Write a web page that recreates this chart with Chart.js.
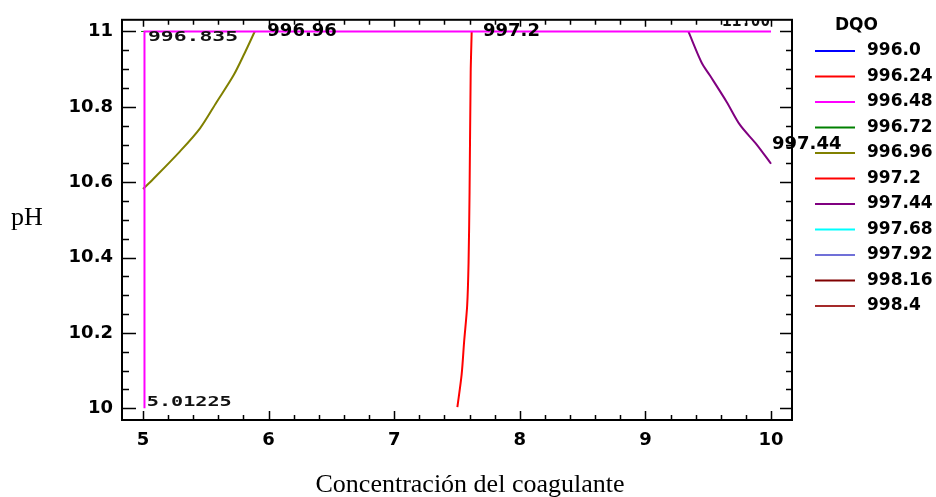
<!DOCTYPE html>
<html>
<head>
<meta charset="utf-8">
<script src="https://cdn.jsdelivr.net/npm/chart.js@4.4.1/dist/chart.umd.min.js"></script>
<style>
  html, body { margin: 0; padding: 0; background: #fff; }
  #wrap { width: 936px; height: 497px; position: relative; }
</style>
</head>
<body>
<div id="wrap"><canvas id="contour"></canvas></div>
<script>
// DQO contour levels shown in legend
const dqoLevels = ['996.0', '996.24', '996.48', '996.72', '996.96', '997.2', '997.44', '997.68', '997.92', '998.16', '998.4'];
const dqoColors = ['#0000ff', '#ff0000', '#ff00ff', '#008000', '#808000', '#ff0000', '#800080', '#00ffff', '#7070d8', '#800000', '#a52a2a'];

// contour traces (coagulant concentration, pH)
const line99648 = [{x: 5.012, y: 10.0}, {x: 5.012, y: 11.0}, {x: 10.0, y: 11.0}];
const line99672 = [{x: 4.985, y: 11.0}, {x: 9.34, y: 11.0}];
const line99696 = [{x: 5.0, y: 10.582}, {x: 5.08, y: 10.608}, {x: 5.295, y: 10.682}, {x: 5.454, y: 10.743}, {x: 5.587, y: 10.813}, {x: 5.72, y: 10.883}, {x: 5.81, y: 10.943}, {x: 5.89, y: 11.0}];
const line9972 = [{x: 7.503, y: 10.003}, {x: 7.537, y: 10.09}, {x: 7.557, y: 10.178}, {x: 7.581, y: 10.273}, {x: 7.592, y: 10.386}, {x: 7.600, y: 10.574}, {x: 7.609, y: 10.891}, {x: 7.617, y: 11.0}];
const line99744 = [{x: 9.342, y: 11.0}, {x: 9.448, y: 10.917}, {x: 9.514, y: 10.883}, {x: 9.647, y: 10.813}, {x: 9.753, y: 10.752}, {x: 9.886, y: 10.70}, {x: 10.0, y: 10.649}];
const traces = {'996.48': line99648, '996.72': line99672, '996.96': line99696, '997.2': line9972, '997.44': line99744};

const xTicks = [5, 6, 7, 8, 9, 10];
const yTicks = [10, 10.2, 10.4, 10.6, 10.8, 11];

// labels that sit on the contours: [text, x, y]
const contourLabels = [['996.96', 5.99, 11.0], ['997.2', 7.707, 11.0], ['997.44', 10.008, 10.7]];
const lcdLabels = [['996.835', 5.04, 11.003, 90], ['5.01225', 5.03, 10.034, 85]];

const datasets = dqoLevels.map((lvl, i) => ({
  label: lvl,
  data: traces[lvl] || [],
  borderColor: dqoColors[i],
  backgroundColor: dqoColors[i],
  borderWidth: lvl === '996.72' ? 1 : 2,
  showLine: true,
  pointRadius: 0,
  tension: (lvl === '996.48' || lvl === '996.72') ? 0 : 0.3
}));

const frame = {
  id: 'frame',
  afterDatasetsDraw(chart) {
    const ctx = chart.ctx;
    const a = chart.chartArea;
    const xs = chart.scales.x, ys = chart.scales.y;
    ctx.save();

    // contour labels
    ctx.fillStyle = '#000';
    ctx.font = 'bold 18px "DejaVu Sans"';
    ctx.textBaseline = 'middle';
    ctx.textAlign = 'left';
    contourLabels.forEach(([t, x, y]) => {
      ctx.fillText(t, xs.getPixelForValue(x), ys.getPixelForValue(y));
    });

    // lcd-like labels
    lcdLabels.forEach(([t, x, y, w]) => {
      ctx.save();
      ctx.font = 'bold 14px "DejaVu Sans Mono"';
      const mw = ctx.measureText(t).width;
      ctx.translate(xs.getPixelForValue(x), ys.getPixelForValue(y));
      ctx.scale(w / mw, 1);
      ctx.fillStyle = '#111';
      ctx.textBaseline = 'top';
      ctx.fillText(t, 0, 0);
      ctx.restore();
    });

    // clipped label at top right
    ctx.save();
    ctx.beginPath();
    ctx.rect(a.left, a.top, a.right - a.left, a.bottom - a.top);
    ctx.clip();
    ctx.font = 'bold 16px "DejaVu Sans Mono"';
    const mw = ctx.measureText('11.00').width;
    ctx.translate(xs.getPixelForValue(9.61), a.top + 2);
    ctx.scale(48 / mw, 1);
    ctx.textBaseline = 'middle';
    ctx.fillStyle = '#111';
    ctx.fillText('11.00', 0, 0);
    ctx.restore();

    // frame and ticks
    ctx.strokeStyle = '#000';
    ctx.lineWidth = 2;
    ctx.strokeRect(a.left, a.top, a.right - a.left, a.bottom - a.top);
    ctx.lineWidth = 1.5;
    ctx.beginPath();
    for (let v = 5; v <= 10.001; v += 0.2) {
      const px = Math.round(xs.getPixelForValue(v)) + 0.5;
      const major = Math.abs(v - Math.round(v)) < 1e-6;
      ctx.moveTo(px, a.bottom); ctx.lineTo(px, a.bottom - (major ? 9 : 5));
      ctx.moveTo(px, a.top); ctx.lineTo(px, a.top + (major ? 7 : 5));
    }
    for (let v = 10; v <= 11.0001; v += 0.05) {
      const py = Math.round(ys.getPixelForValue(v)) + 0.5;
      const major = Math.abs(v * 5 - Math.round(v * 5)) < 1e-6;
      ctx.moveTo(a.left, py); ctx.lineTo(a.left + (major ? 14 : 7), py);
      ctx.moveTo(a.right, py); ctx.lineTo(a.right - (major ? 12 : 6), py);
    }
    ctx.stroke();

    // axis titles
    ctx.fillStyle = '#000';
    ctx.font = '26px "Liberation Serif"';
    ctx.textAlign = 'center';
    ctx.textBaseline = 'middle';
    ctx.fillText('Concentración del coagulante', 470, 485);
    ctx.fillText('pH', 27, 218);

    // legend
    ctx.textAlign = 'left';
    ctx.font = 'bold 17px "DejaVu Sans"';
    ctx.fillText('DQO', 835, 26);
    dqoLevels.forEach((lvl, i) => {
      const y = 51 + i * 25.5;
      ctx.strokeStyle = dqoColors[i];
      ctx.lineWidth = 2;
      ctx.beginPath();
      ctx.moveTo(815, y); ctx.lineTo(855, y);
      ctx.stroke();
      ctx.fillText(lvl, 867, y);
    });
    ctx.restore();
  }
};

new Chart(document.getElementById('contour'), {
  type: 'scatter',
  data: { datasets },
  options: {
    responsive: true,
    maintainAspectRatio: false,
    animation: false,
    layout: { padding: { left: 0, top: 13, right: 144, bottom: 0 } },
    plugins: { legend: { display: false }, tooltip: { enabled: false } },
    scales: {
      x: {
        type: 'linear', min: 4.833, max: 10.167,
        afterBuildTicks: s => { s.ticks = xTicks.map(v => ({ value: v })); },
        afterFit: s => { s.height = 77; },
        grid: { display: false, drawTicks: false },
        border: { display: false },
        ticks: { color: '#000', padding: 10, font: { family: 'DejaVu Sans', size: 18, weight: 'bold' }, callback: v => String(v) }
      },
      y: {
        type: 'linear', min: 9.969, max: 11.031,
        afterBuildTicks: s => { s.ticks = yTicks.map(v => ({ value: v })); },
        afterFit: s => { s.width = 122; },
        grid: { display: false, drawTicks: false },
        border: { display: false },
        ticks: { color: '#000', padding: 9, font: { family: 'DejaVu Sans', size: 18, weight: 'bold' }, callback: v => String(+v.toFixed(1)) }
      }
    }
  },
  plugins: [frame]
});
</script>
</body>
</html>
